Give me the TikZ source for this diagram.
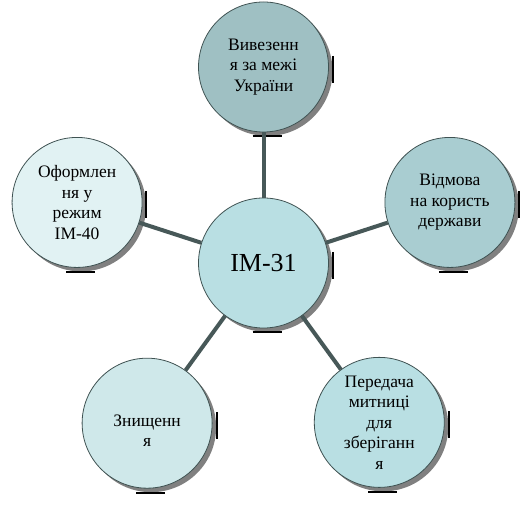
\documentclass[tikz,border=0pt]{standalone}
\usepackage{fontspec}
\setmainfont{Liberation Serif}
\usepackage{tikz}
\usetikzlibrary{shadows}

\definecolor{rimgray}{HTML}{3F5252}
\definecolor{linkgray}{HTML}{475858}
\definecolor{hubfill}{HTML}{B9DFE3}
\definecolor{tealdark}{HTML}{9FC0C3}
\definecolor{tealmid}{HTML}{A9CDD1}
\definecolor{tealpale}{HTML}{CFE8EA}
\definecolor{tealwhite}{HTML}{E1F2F3}

\begin{document}
\begin{tikzpicture}[x=1pt, y=1pt,
  leaf/.style={circle, draw=rimgray, line width=0.8pt, minimum size=130pt, inner sep=0pt,
    align=center, font=\fontsize{17.5}{20.5}\selectfont,
    drop shadow={shadow xshift=4pt, shadow yshift=-4pt, fill=black!50, opacity=1}},
  hub/.style={leaf, fill=hubfill, font=\fontsize{26}{30}\selectfont},
  link/.style={line width=4pt, draw=linkgray},
  shadowbar/.style={line width=2pt, black}]

  \useasboundingbox (-263.5,263) rectangle (261.5,-263);

  \node[hub] (im31) at (0,0) {ІМ-31};

  \node[leaf, fill=tealdark]  (vyvez)     at (90:196)   {Вивезенн\\я за межі\\України};
  \node[leaf, fill=tealmid]   (vidmova)   at (18:196)   {Відмова\\на користь\\держави};
  \node[leaf, fill=hubfill]   (peredacha) at (-54:197)  {Передача\\митниці\\для\\зберіганн\\я};
  \node[leaf, fill=tealpale]  (znysch)    at (-126:198) {\rule{0pt}{27pt}Знищенн\\я};
  \node[leaf, fill=tealwhite] (oform)     at (162:196)  {Оформлен\\ня у\\режим\\ІМ-40};

  \foreach \n in {im31, vyvez, vidmova, peredacha, znysch, oform} {
    \draw[shadowbar] ([xshift=4pt, yshift=11pt]\n.east) -- ([xshift=4pt, yshift=-16pt]\n.east);
    \draw[shadowbar] ([xshift=-11pt, yshift=-4pt]\n.south) -- ([xshift=18pt, yshift=-4pt]\n.south);
  }

  \draw[link] (im31) -- (vyvez);
  \draw[link] (im31) -- (vidmova);
  \draw[link] (im31) -- (peredacha);
  \draw[link] (im31) -- (znysch);
  \draw[link] (im31) -- (oform);
\end{tikzpicture}
\end{document}
